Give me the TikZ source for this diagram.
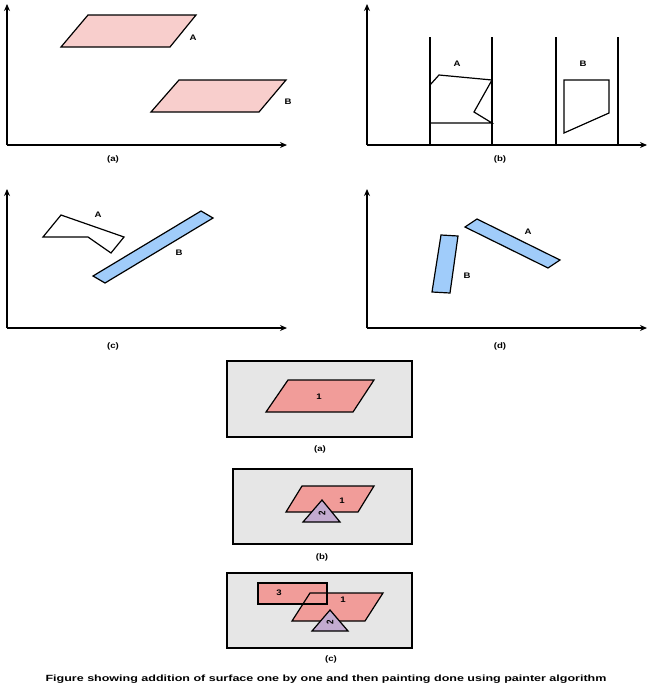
\documentclass[tikz,border=0pt]{standalone}
\usepackage{fontspec}
\setmainfont{Liberation Sans}
\usetikzlibrary{arrows.meta}
\definecolor{pinkA}{RGB}{248,206,204}
\definecolor{blueA}{RGB}{160,204,250}
\definecolor{salmon}{RGB}{241,156,153}
\definecolor{purp}{RGB}{195,171,208}
\definecolor{panelgray}{RGB}{230,230,230}
\tikzset{
  axis/.style={line width=1.8pt,-{Stealth[length=7pt,width=6pt]}},
  clipline/.style={line width=1.8pt},
  shp/.style={draw=black,line width=1.2pt,line join=miter},
  lbl/.style={font=\bfseries\fontsize{8}{9}\selectfont,inner sep=0pt,xscale=1.2},
  sublabel/.style={font=\bfseries\fontsize{8}{9}\selectfont,inner sep=0pt,xscale=1.2},
  panel/.style={draw=black,line width=1.8pt,fill=panelgray},
}
\begin{document}
\begin{tikzpicture}[x=1pt,y=-1pt]
\useasboundingbox (0,0) rectangle (653,686);
% ---------- panel (a)
\coordinate (oa) at (7,145);
\coordinate (ya) at (7,4);
\coordinate (xa) at (287,145);
\draw[axis] (oa) -- (ya);
\draw[axis] (oa) -- (xa);
\filldraw[shp,fill=pinkA] (88,15) -- (196,15) -- (170,47) -- (61,47) -- cycle;
\filldraw[shp,fill=pinkA] (179,80) -- (286,80) -- (259,112) -- (151,112) -- cycle;
\node[lbl] (la1) at (193,38) {A};
\node[lbl] (lb1) at (288,102) {B};
\node[sublabel] (ca) at (113,159) {(a)};
% ---------- panel (b)
\coordinate (ob) at (367,145);
\coordinate (yb) at (367,4);
\coordinate (xb) at (647,145);
\draw[axis] (ob) -- (yb);
\draw[axis] (ob) -- (xb);
\foreach \xx in {430,492,556,618}{\draw[clipline] (\xx,37) -- (\xx,145);}
\draw[shp] (430,85) -- (439,75) -- (492,80) -- (474,112) -- (492,123) -- (430,123);
\draw[shp] (564,80) -- (609,80) -- (609,113) -- (564,133) -- cycle;
\node[lbl] (la2) at (457,64) {A};
\node[lbl] (lb2) at (583,64) {B};
\node[sublabel] (cb) at (500,159) {(b)};
% ---------- panel (c)
\coordinate (oc) at (7,328);
\coordinate (yc) at (7,189);
\coordinate (xc) at (287,328);
\draw[axis] (oc) -- (yc);
\draw[axis] (oc) -- (xc);
\draw[shp,fill=white] (61,215) -- (124,237) -- (111,253) -- (88,237) -- (43,237) -- cycle;
\filldraw[shp,fill=blueA] (201,211) -- (213,218) -- (105,283) -- (93,276) -- cycle;
\node[lbl] (la3) at (98,215) {A};
\node[lbl] (lb3) at (179,253) {B};
\node[sublabel] (cc) at (113,346) {(c)};
% ---------- panel (d)
\coordinate (od) at (367,328);
\coordinate (yd) at (367,189);
\coordinate (xd) at (647,328);
\draw[axis] (od) -- (yd);
\draw[axis] (od) -- (xd);
\filldraw[shp,fill=blueA] (465,227) -- (477,219) -- (560,260) -- (548,268) -- cycle;
\filldraw[shp,fill=blueA] (441,235) -- (458,236) -- (450,293) -- (432,292) -- cycle;
\node[lbl] (la4) at (528,232) {A};
\node[lbl] (lb4) at (467,276) {B};
\node[sublabel] (cd) at (500,346) {(d)};
% ---------- bottom (a)
\filldraw[panel] (227,361) rectangle (412,437);
\filldraw[shp,fill=salmon] (288,380) -- (374,380) -- (353,412) -- (266,412) -- cycle;
\node[lbl] (n1a) at (319,397) {1};
\node[sublabel] (ba) at (320,449) {(a)};
% ---------- bottom (b)
\filldraw[panel] (233,469) rectangle (412,544);
\filldraw[shp,fill=salmon] (302,486) -- (374,486) -- (358,512) -- (286,512) -- cycle;
\node[lbl] (n1b) at (342,501) {1};
\filldraw[shp,fill=purp] (322,500) -- (340,522) -- (303,522) -- cycle;
\node[lbl,rotate=90] (n2b) at (322,513) {2};
\node[sublabel] (bb) at (322,557) {(b)};
% ---------- bottom (c)
\filldraw[panel] (227,573) rectangle (412,648);
\fill[salmon] (258,583) rectangle (327,604);
\fill[salmon] (310,593) -- (383,593) -- (365,621) -- (292,621) -- cycle;
\draw[shp] (258,583) rectangle (327,604);
\draw[shp] (310,593) -- (383,593) -- (365,621) -- (292,621) -- cycle;
\node[lbl] (n3c) at (279,593) {3};
\node[lbl] (n1c) at (343,600) {1};
\filldraw[shp,fill=purp] (330,610) -- (348,631) -- (312,631) -- cycle;
\node[lbl,rotate=90] (n2c) at (330,622) {2};
\node[sublabel] (bc) at (331,659) {(c)};
% ---------- caption
\node[font=\bfseries\fontsize{9}{10}\selectfont,inner sep=0pt,xscale=1.39] (capt) at (326,679) {Figure showing addition of surface one by one and then painting done using painter algorithm};
\end{tikzpicture}
\end{document}
